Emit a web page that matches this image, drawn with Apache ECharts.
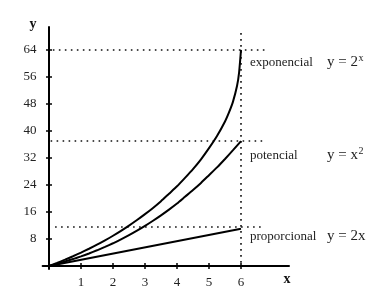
<!DOCTYPE html>
<html><head><meta charset="utf-8">
<script src="https://cdn.jsdelivr.net/npm/echarts@6/dist/echarts.min.js"></script>
<style>html,body{margin:0;padding:0;background:#fff}#c{width:383px;height:304px}</style>
</head><body><div id="c"></div>
<script>
// ---- data ----
const xTicks = [1, 2, 3, 4, 5, 6];
const yTicks = [8, 16, 24, 32, 40, 48, 56, 64];
const expX = [0, 0.25, 0.5, 0.75, 1, 1.25, 1.5, 1.75, 2, 2.25, 2.5, 2.75, 3, 3.25, 3.5, 3.75, 4, 4.25, 4.5, 4.75, 5, 5.25, 5.5, 5.625, 5.75, 5.875, 5.94, 6];
const expY = [0, 0.9, 1.86, 2.88, 3.95, 5.1, 6.3, 7.6, 8.95, 10.4, 11.95, 13.6, 15.35, 17.2, 19.2, 21.4, 23.6, 26.1, 28.7, 31.6, 34.9, 38.5, 42.8, 45.5, 48.7, 53.3, 57.3, 64];
const potX = [0, 0.25, 0.5, 0.75, 1, 1.25, 1.5, 1.75, 2, 2.25, 2.5, 2.75, 3, 3.25, 3.5, 3.75, 4, 4.25, 4.5, 4.75, 5, 5.25, 5.5, 5.75, 6];
const potY = [0, 0.63, 1.31, 2.04, 2.84, 3.7, 4.64, 5.64, 6.72, 7.88, 9.13, 10.46, 11.88, 13.4, 15.0, 16.7, 18.5, 20.5, 22.5, 24.6, 26.9, 29.2, 31.7, 34.3, 37];
const propX = [0, 6];
const propY = [0, 11];
const refLevels = [64, 37, 11.7];
const refX = 6;
const names = ['exponencial', 'potencial', 'proporcional'];
const formulaMain = ['y = 2', 'y = x', 'y = 2x'];
const formulaSup = ['x', '2', ''];

// ---- chart ----
const FONT = "'Liberation Serif','DejaVu Serif',serif";
const zip = (xs, ys) => xs.map((x, i) => [x, ys[i]]);
const chart = echarts.init(document.getElementById('c'), null, {renderer: 'canvas'});
const XMIN = -0.2, XMAX = 7.5, YMIN = -0.9, YMAX = 70.8;
const dotted = {color: '#111', width: 1.6, type: [1.6, 4.4]};
const curve = (d) => ({
  type: 'line', data: d, smooth: 0.2, showSymbol: false,
  lineStyle: {color: '#000', width: 2}, xAxisIndex: 0, yAxisIndex: 0, silent: true, z: 5
});
const refSeries = {
  type: 'line', data: [], xAxisIndex: 0, yAxisIndex: 0, silent: true,
  markLine: {
    symbol: 'none', silent: true, label: {show: false}, lineStyle: dotted, animation: false,
    data: [
      [{coord: [0.12, refLevels[0]]}, {coord: [6.8, refLevels[0]]}],
      [{coord: [0.05, refLevels[1]]}, {coord: [6.8, refLevels[1]]}],
      [{coord: [0.19, refLevels[2]]}, {coord: [6.75, refLevels[2]]}],
      [{coord: [refX, 69]}, {coord: [refX, 0]}]
    ]
  }
};
const labelStyle = {color: '#222', fontFamily: FONT, fontSize: 13};
const option = {
  animation: false,
  backgroundColor: '#fff',
  grid: {left: 42.6, right: 94, top: 27, bottom: 35, containLabel: false},
  xAxis: [{
    type: 'value', min: XMIN, max: XMAX, position: 'bottom',
    axisLine: {show: true, onZero: true, lineStyle: {color: '#000', width: 2}},
    axisTick: {show: true, length: 3, customValues: xTicks, lineStyle: {color: '#000', width: 1.5}},
    axisLabel: Object.assign({show: true, margin: 7, customValues: xTicks}, labelStyle),
    splitLine: {show: false}
  }, {
    type: 'value', min: XMIN, max: XMAX, position: 'bottom',
    axisLine: {show: false, onZero: true},
    axisTick: {show: true, inside: true, length: 3, customValues: xTicks, lineStyle: {color: '#000', width: 1.5}},
    axisLabel: {show: false}, splitLine: {show: false}
  }],
  yAxis: [{
    type: 'value', min: YMIN, max: YMAX, position: 'left',
    axisLine: {show: true, onZero: true, lineStyle: {color: '#000', width: 2}},
    axisTick: {show: true, length: 3, customValues: yTicks, lineStyle: {color: '#000', width: 1.5}},
    axisLabel: Object.assign({show: true, margin: 6, customValues: yTicks}, labelStyle),
    splitLine: {show: false}
  }, {
    type: 'value', min: YMIN, max: YMAX, position: 'left',
    axisLine: {show: false, onZero: true},
    axisTick: {show: true, inside: true, length: 3, customValues: yTicks, lineStyle: {color: '#000', width: 1.5}},
    axisLabel: {show: false}, splitLine: {show: false}
  }],
  series: [
    curve(zip(expX, expY)),
    curve(zip(potX, potY)),
    curve(zip(propX, propY)),
    refSeries
  ],
  graphic: []
};
chart.setOption(option);

// text annotations placed beside the end of each curve
const labelCenters = [63, 156, 237];
const g = [
  {type: 'text', x: 33, y: 24, style: {text: 'y', font: "bold 14px " + FONT, fill: '#111', align: 'center', verticalAlign: 'middle', textAlign: 'center', textVerticalAlign: 'middle'}},
  {type: 'text', x: 287, y: 279, style: {text: 'x', font: "bold 14px " + FONT, fill: '#111', align: 'center', verticalAlign: 'middle', textAlign: 'center', textVerticalAlign: 'middle'}}
];
const ctx = document.createElement('canvas').getContext('2d');
names.forEach((n, i) => {
  const cy = labelCenters[i];
  g.push({type: 'text', x: 250, y: cy, style: {text: n, font: "13px " + FONT, fill: '#222', align: 'left', verticalAlign: 'middle', textAlign: 'left', textVerticalAlign: 'middle'}});
  g.push({type: 'text', x: 327, y: cy - 1, style: {text: formulaMain[i], font: "15px " + FONT, fill: '#222', align: 'left', verticalAlign: 'middle', textAlign: 'left', textVerticalAlign: 'middle'}});
  if (formulaSup[i]) {
    ctx.font = "15px " + FONT;
    const w = ctx.measureText(formulaMain[i]).width;
    g.push({type: 'text', x: 327 + w + 0.5, y: cy - 5, style: {text: formulaSup[i], font: "10px " + FONT, fill: '#222', align: 'left', verticalAlign: 'middle', textAlign: 'left', textVerticalAlign: 'middle'}});
  }
});
chart.setOption({graphic: g});
</script></body></html>
